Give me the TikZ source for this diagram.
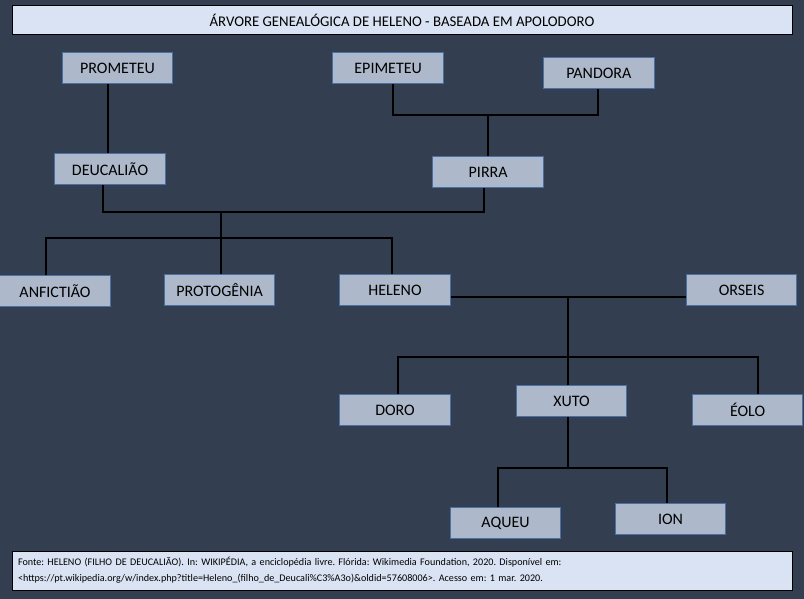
\documentclass[tikz,border=0pt]{standalone}
\usepackage{fontspec}
\setmainfont{Carlito}
\usetikzlibrary{positioning}

\definecolor{fundo}{HTML}{333F50}
\definecolor{caixa}{HTML}{ADB9CA}
\definecolor{borda}{HTML}{4A6FA5}
\definecolor{faixa}{HTML}{DAE3F3}

\begin{document}
\begin{tikzpicture}[x=0.75pt,y=-0.75pt,node distance=3cm,
	pessoa/.style={draw=borda,line width=0.75pt,fill=caixa,minimum width=83pt,minimum height=23.25pt,inner sep=0pt,font=\fontsize{12}{14}\selectfont},
	titulo/.style={draw=black,line width=0.75pt,fill=faixa,minimum width=585pt,inner sep=0pt},
	ligacao/.style={line width=1.5pt,black}]

\fill[fundo] (0,0) rectangle (804,599);
\useasboundingbox (0,0) rectangle (804,599);

\node[titulo,minimum height=21.75pt,font=\fontsize{11.1}{13}\selectfont] (cabecalho) at (402,20.5) {ÁRVORE GENEALÓGICA DE HELENO - BASEADA EM APOLODORO};

\node[pessoa]   (prometeu) at (117.5,68)       				{PROMETEU};
\node[pessoa]   (epimeteu)[node distance=203pt,right of=prometeu]      				{EPIMETEU};
\node[pessoa]   (pandora)[node distance=158pt,right of=epimeteu,yshift=-3.75pt]      				{PANDORA};
\node[pessoa]   (deucaliao)[node distance=76pt,below of=prometeu,xshift=-5.6pt]      				{DEUCALIÃO};
\node[pessoa]   (pirra)[node distance=78pt,below of=epimeteu,xshift=75pt]      				{PIRRA};
\node[pessoa]   (anfictiao)[node distance=91.5pt,below of=deucaliao,xshift=-41.25pt]      				{ANFICTIÃO};
\node[pessoa]   (protogenia)[node distance=123.4pt,right of=anfictiao,yshift=1.1pt]      				{PROTOGÊNIA};
\node[pessoa]   (heleno)[node distance=131.6pt,right of=protogenia]      				{HELENO};
\node[pessoa]   (orseis)[node distance=259.9pt,right of=heleno]      				{ORSEIS};
\node[pessoa]   (doro)[node distance=90pt,below of=heleno]      				{DORO};
\node[pessoa]   (xuto)[node distance=132.4pt,right of=doro,yshift=6.4pt]      				{XUTO};
\node[pessoa]   (eolo)[node distance=132pt,right of=xuto,yshift=-6.4pt]      				{ÉOLO};
\node[pessoa]   (aqueu)[node distance=91.5pt,below of=xuto,xshift=-49.5pt]      				{AQUEU};
\node[pessoa]   (ion)[node distance=123.75pt,right of=aqueu,yshift=3pt]      				{ION};

\node[titulo,minimum height=29.25pt,inner xsep=4.5pt,text width=576pt,align=left,font=\fontsize{7.6}{12}\selectfont\frenchspacing] (fonte) at (402,570.5) {Fonte: HELENO (FILHO DE DEUCALIÃO). In: WIKIPÉDIA, a enciclopédia livre. Flórida: Wikimedia Foundation, 2020. Disponível em:\\ <https://pt.wikipedia.org/w/index.php?title=Heleno\_(filho\_de\_Deucali\%C3\%A3o)\&oldid=57608006>. Acesso em: 1 mar. 2020.};

% pontos de uniao
\coordinate (topoDeu) at ([xshift=-1.5pt]deucaliao.north);
\coordinate (casalEP) at ([yshift=30.75pt]pirra.north);
\coordinate (casalDP) at ([xshift=1.1pt,yshift=46.5pt]protogenia.north);
\coordinate (filhosDP) at ([xshift=1.1pt,yshift=27pt]protogenia.north);
\coordinate (casalHO) at ([yshift=-5.25pt]heleno.east);
\coordinate (topoXuto) at ([xshift=-2.6pt]xuto.north);
\coordinate (baseXuto) at ([xshift=-2.6pt]xuto.south);
\coordinate (filhosHO) at ([xshift=2.25pt,yshift=27.4pt]doro.north);
\coordinate (filhosXA) at ([xshift=-5.6pt,yshift=29.25pt]aqueu.north);

	\draw[ligacao] (topoDeu) -- (topoDeu |- prometeu.south);
	\draw[ligacao] ([xshift=3.4pt]epimeteu.south) |- (casalEP) -| ([xshift=-0.75pt]pandora.south);
	\draw[ligacao] (casalEP) -- (pirra.north);
	\draw[ligacao] ([xshift=-5.25pt]deucaliao.south) |- (casalDP) -| ([xshift=-3.4pt]pirra.south);
	\draw[ligacao] (casalDP) -- (casalDP |- protogenia.north);
	\draw[ligacao] ([xshift=-6.75pt]anfictiao.north) |- (filhosDP) -| ([xshift=-2.25pt]heleno.north);
	\draw[ligacao] (casalHO) -- (casalHO -| orseis.west);
	\draw[ligacao] (topoXuto) -- (topoXuto |- casalHO);
	\draw[ligacao] ([xshift=2.25pt]doro.north) -- (filhosHO) -| ([xshift=7.9pt]eolo.north);
	\draw[ligacao] (baseXuto) -- (baseXuto |- filhosXA);
	\draw[ligacao] ([xshift=-5.6pt]aqueu.north) -- (filhosXA) -| ([xshift=-2.6pt]ion.north);

\end{tikzpicture}
\end{document}
